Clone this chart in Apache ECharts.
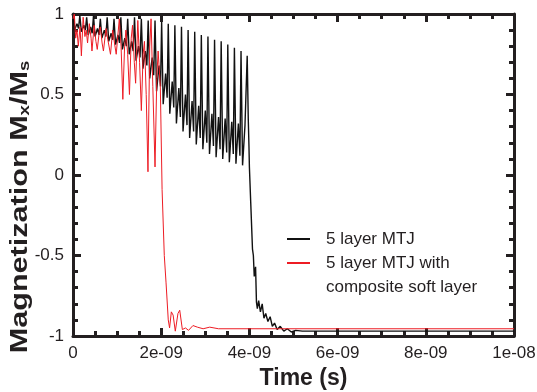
<!DOCTYPE html>
<html><head><meta charset="utf-8">
<script src="https://cdn.jsdelivr.net/npm/echarts@6/dist/echarts.min.js"></script>
<style>html,body{margin:0;padding:0;background:#fff}#c{width:537px;height:392px}</style>
</head><body><div id="c"></div>
<script>
// Time values are in nanoseconds (1e-9 s); tick labels show seconds.
const xTickLabels = ['0', '2e-09', '4e-09', '6e-09', '8e-09', '1e-08'];
const seriesNames = ['5 layer MTJ', '5 layer MTJ with composite soft layer'];
const xTitle = 'Time (s)';

// 5 layer MTJ: [time (ns), Mx/Ms]
const mtjData = [
  [0,0.97],[0.035,0.90],[0.09,0.94],[0.125,0.91],
  [0.155,0.99],[0.19,0.89],[0.245,0.93],[0.28,0.90],
  [0.31,0.98],[0.345,0.87],[0.40,0.92],[0.435,0.88],
  [0.465,0.99],[0.50,0.86],[0.555,0.91],[0.59,0.87],
  [0.62,0.97],[0.655,0.85],[0.71,0.90],[0.745,0.86],
  [0.775,0.98],[0.81,0.83],[0.865,0.88],[0.90,0.84],
  [0.93,0.97],[0.965,0.81],[1.02,0.87],[1.055,0.82],
  [1.085,0.98],[1.12,0.78],[1.175,0.85],[1.21,0.80],
  [1.24,0.97],[1.275,0.75],[1.33,0.83],[1.365,0.77],
  [1.395,0.98],[1.43,0.71],[1.485,0.80],[1.52,0.73],
  [1.55,0.97],[1.585,0.66],[1.64,0.77],[1.675,0.68],
  [1.705,0.96],[1.74,0.60],[1.795,0.73],[1.83,0.62],
  [1.86,0.96],[1.895,0.52],[1.95,0.68],[1.985,0.55],
  [2.01,0.95],[2.045,0.44],[2.10,0.63],[2.135,0.48],
  [2.16,0.94],[2.195,0.38],[2.25,0.58],[2.285,0.42],
  [2.31,0.93],[2.345,0.32],[2.40,0.54],[2.435,0.36],
  [2.46,0.92],[2.495,0.27],[2.55,0.50],[2.585,0.31],
  [2.61,0.90],[2.645,0.23],[2.70,0.46],[2.735,0.27],
  [2.76,0.89],[2.795,0.19],[2.85,0.43],[2.885,0.23],
  [2.91,0.87],[2.945,0.16],[3.00,0.40],[3.035,0.20],
  [3.06,0.86],[3.095,0.13],[3.15,0.38],[3.185,0.18],
  [3.21,0.84],[3.245,0.11],[3.30,0.36],[3.335,0.16],
  [3.36,0.83],[3.395,0.10],[3.45,0.35],[3.485,0.14],
  [3.51,0.81],[3.545,0.08],[3.60,0.33],[3.635,0.13],
  [3.66,0.79],[3.695,0.07],[3.75,0.32],[3.785,0.12],
  [3.81,0.77],[3.845,0.06],[3.90,0.31],[3.925,0.30],
  [3.95,0.74],[3.975,0.34],[3.99,0.18],[4.00,0.05],[4.03,-0.17],[4.05,-0.18],
  [4.07,-0.46],[4.09,-0.50],[4.11,-0.63],[4.14,-0.57],[4.16,-0.79],[4.18,-0.83],
  [4.21,-0.78],[4.25,-0.85],[4.29,-0.80],[4.33,-0.89],[4.37,-0.86],[4.42,-0.91],
  [4.47,-0.88],[4.52,-0.94],[4.57,-0.92],[4.63,-0.96],[4.70,-0.94],[4.78,-0.97],
  [4.86,-0.955],[4.95,-0.975],[5.05,-0.965],[5.2,-0.97],[10,-0.97]
];

// 5 layer MTJ with composite soft layer: [time (ns), Mx/Ms]
const compositeData = [
  [0,0.97],[0.03,1.0],[0.06,0.85],[0.09,0.90],[0.12,0.80],[0.16,0.92],[0.19,0.74],
  [0.23,0.98],[0.27,0.86],[0.30,0.90],[0.33,0.82],[0.37,0.94],[0.41,0.85],[0.43,0.77],
  [0.48,0.93],[0.52,0.83],[0.55,0.78],[0.60,0.90],[0.62,0.92],[0.66,0.82],[0.69,0.77],
  [0.75,0.91],[0.79,0.84],[0.85,0.75],[0.90,0.90],[0.94,0.82],[0.98,0.75],[1.05,0.97],
  [1.09,0.80],[1.13,0.47],[1.17,0.80],[1.20,0.90],[1.24,0.75],[1.28,0.50],[1.32,0.85],
  [1.35,0.93],[1.39,0.70],[1.42,0.57],[1.47,0.96],[1.51,0.70],[1.55,0.40],[1.59,0.75],
  [1.62,0.83],[1.66,0.50],[1.70,0.02],[1.74,0.80],[1.77,0.97],[1.81,0.55],[1.86,0.05],
  [1.90,0.60],[1.93,0.77],[1.98,0.55],[2.02,-0.09],[2.07,-0.50],[2.11,-0.67],[2.16,-0.90],
  [2.19,-0.95],[2.23,-0.85],[2.27,-0.87],[2.32,-0.97],[2.38,-0.86],[2.42,-0.84],[2.48,-0.96],
  [2.55,-0.95],[2.62,-0.965],[2.72,-0.935],[2.82,-0.945],[2.95,-0.955],[3.1,-0.945],
  [3.3,-0.955],[10,-0.955]
];

const FONT = 'Liberation Sans, Arial, sans-serif';
const TXT = '#231f20';
const chart = echarts.init(document.getElementById('c'), null, {renderer: 'canvas'});

function xAxisCfg(pos, showLabel) {
  return {
    type: 'value', position: pos, min: 0, max: 10, interval: 2,
    axisLine: {show: true, onZero: false, lineStyle: {color: '#231f20', width: 3}},
    axisTick: {show: true, inside: true, length: 8, lineStyle: {color: '#231f20', width: 3}},
    minorTick: {show: true, splitNumber: 4, length: 5, lineStyle: {color: '#231f20', width: 3}},
    splitLine: {show: false}, minorSplitLine: {show: false},
    axisLabel: {show: showLabel, margin: 9, fontFamily: FONT, fontSize: 17, color: TXT,
      formatter: v => xTickLabels[Math.round(v / 2)]},
    name: showLabel ? xTitle : '', nameLocation: 'middle', nameGap: 29,
    nameTextStyle: {fontFamily: FONT, fontSize: 23, fontWeight: 'bold', color: TXT, padding: [0, 0, 0, 20]}
  };
}
function yAxisCfg(pos, showLabel) {
  return {
    type: 'value', position: pos, min: -1, max: 1, interval: 0.5,
    axisLine: {show: true, onZero: false, lineStyle: {color: '#231f20', width: 3}},
    axisTick: {show: true, inside: true, length: 8, lineStyle: {color: '#231f20', width: 3}},
    minorTick: {show: true, splitNumber: 5, length: 5, lineStyle: {color: '#231f20', width: 3}},
    splitLine: {show: false}, minorSplitLine: {show: false},
    axisLabel: {show: showLabel, margin: 9, fontFamily: FONT, fontSize: 17, color: TXT}
  };
}

chart.setOption({
  animation: false,
  backgroundColor: '#fff',
  grid: {left: 73, right: 23, top: 14, bottom: 56, outerBoundsMode: 'none', containLabel: false},
  xAxis: [xAxisCfg('bottom', true), xAxisCfg('top', false)],
  yAxis: [yAxisCfg('left', true), yAxisCfg('right', false)],
  legend: [
    {data: [seriesNames[0]], orient: 'vertical', left: 287, top: 227, padding: 0,
     icon: 'rect', itemWidth: 23, itemHeight: 2,
     textStyle: {fontFamily: FONT, fontSize: 17, color: TXT, lineHeight: 24, padding: [0, 0, 0, 11]}},
    {data: [seriesNames[1]], orient: 'vertical', left: 287, top: 227, padding: 0,
     icon: 'rect', itemWidth: 23, itemHeight: 2,
     formatter: () => ' \n5 layer MTJ with\ncomposite soft layer',
     textStyle: {fontFamily: FONT, fontSize: 17, color: TXT, lineHeight: 24, padding: [0, 0, 0, 11]}}
  ],
  graphic: [{
    type: 'text', x: 21, y: 207, rotation: Math.PI / 2, scaleX: 1.33, silent: true,
    style: {
      text: 'Magnetization M{sub|x}/M{sub|s}',
      fontFamily: FONT, fontSize: 23, fontWeight: 'bold', fill: TXT,
      align: 'center', verticalAlign: 'middle',
      rich: {sub: {fontFamily: FONT, fontSize: 14, fontWeight: 'bold', fill: TXT, verticalAlign: 'bottom', padding: [9, 0, 0, 0]}}
    }
  }],
  series: [
    {name: seriesNames[0], type: 'line', data: mtjData, symbol: 'none', showSymbol: false,
     xAxisIndex: 0, yAxisIndex: 0, color: '#111111', lineStyle: {color: '#111111', width: 1.4}, z: 2},
    {name: seriesNames[1], type: 'line', data: compositeData, symbol: 'none', showSymbol: false,
     xAxisIndex: 0, yAxisIndex: 0, color: '#ed1c24', lineStyle: {color: '#ed1c24', width: 1}, z: 3}
  ]
});
</script></body></html>
